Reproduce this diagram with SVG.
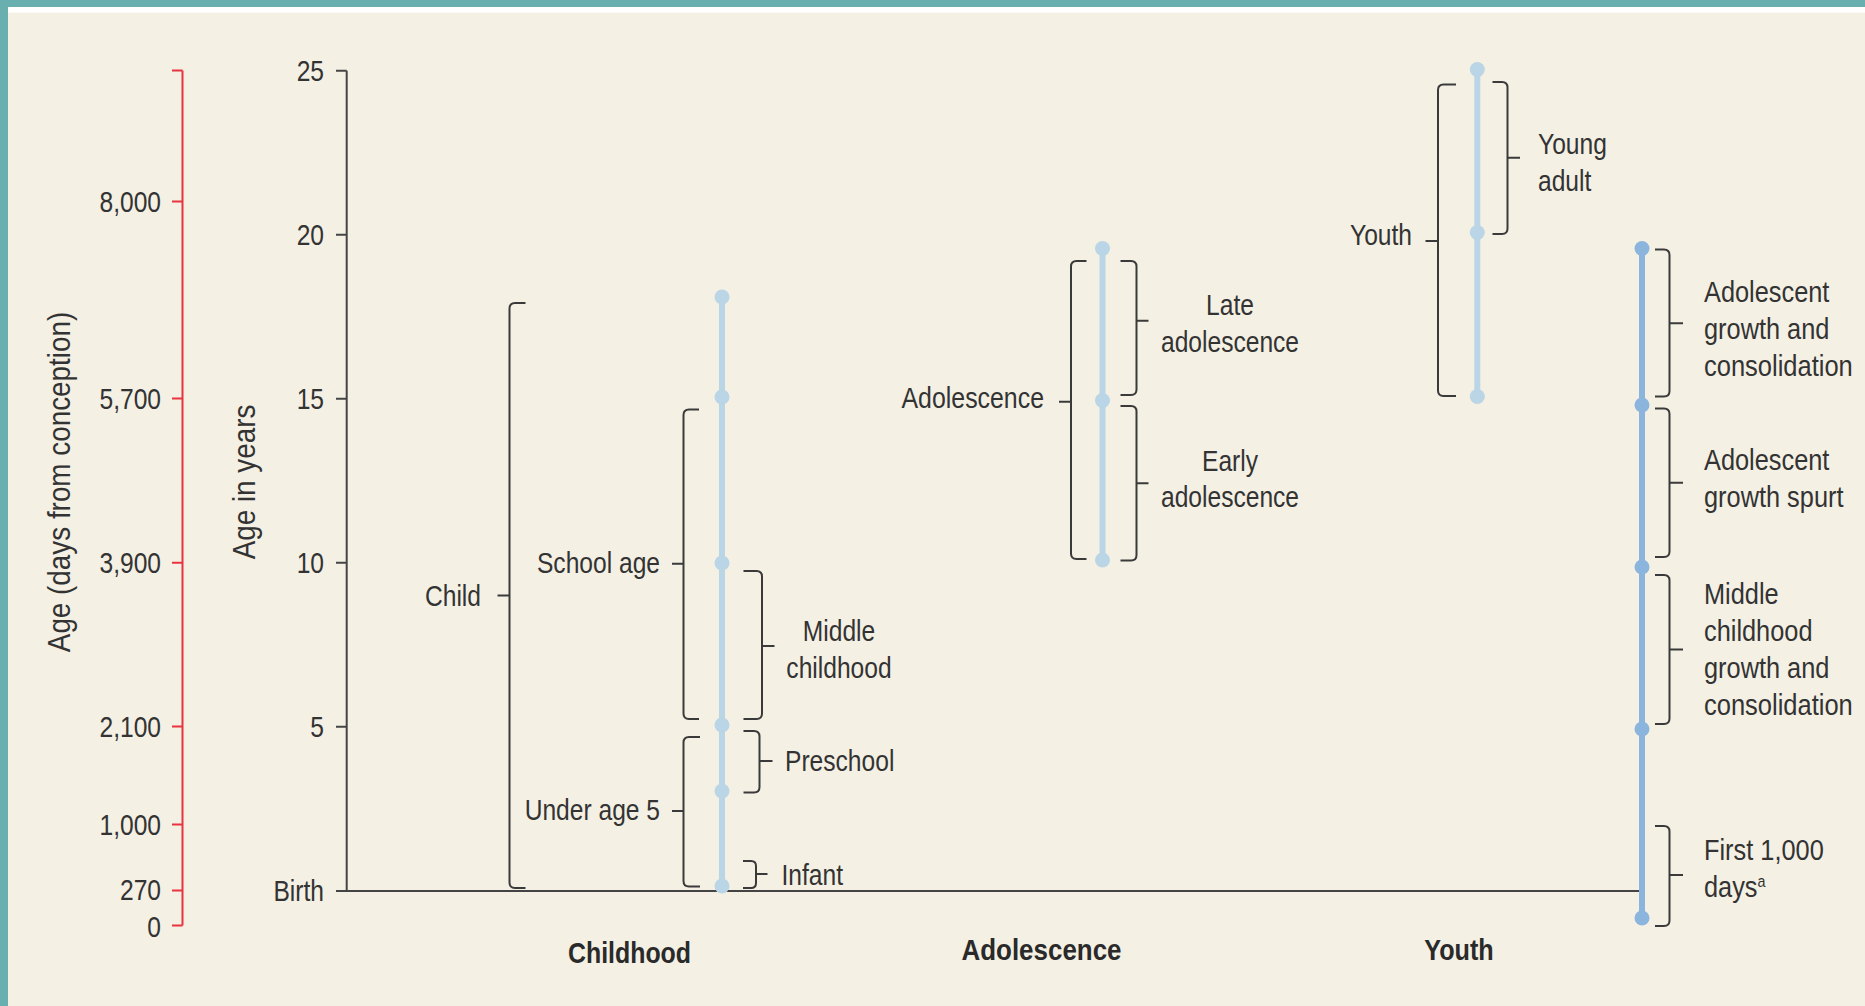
<svg xmlns="http://www.w3.org/2000/svg" width="1865" height="1006" viewBox="0 0 1865 1006">
<style>
text{font-family:"Liberation Sans",Arial,sans-serif;font-size:30px;fill:#333}
.r{text-anchor:end}
.m{text-anchor:middle}
.t{font-weight:bold;fill:#2a2a2a}
.v{font-size:32px;text-anchor:middle}
.ax{stroke:#444;stroke-width:2;fill:none}
.red{stroke:#e8343e;stroke-width:2;fill:none}
.br{stroke:#3a3a3a;stroke-width:2;fill:none}
.lb{stroke:#bad5e5;stroke-width:6;fill:none}
.db{stroke:#8cb5de;stroke-width:6;fill:none}
.lbd{fill:#bad5e5}
.dbd{fill:#8cb5de}
</style>
<rect x="0" y="0" width="1865" height="1006" fill="#f4f0e4"/>
<rect x="0" y="7" width="1865" height="5.5" fill="#ffffff"/>
<rect x="0" y="0" width="1865" height="7" fill="#6aafb0"/>
<rect x="0" y="0" width="8" height="1006" fill="#6aafb0"/>

<g id="axis-days">
<path class="red" d="M182.5 70.5V925.5M172 70.5H182.5M172 201.5H182.5M172 398.5H182.5M172 562.7H182.5M172 726.5H182.5M172 824.5H182.5M172 890.5H182.5M172 925.5H182.5"/>
<text class="r" transform="translate(161 212) scale(.82 1)">8,000</text>
<text class="r" transform="translate(161 409) scale(.82 1)">5,700</text>
<text class="r" transform="translate(161 573) scale(.82 1)">3,900</text>
<text class="r" transform="translate(161 737) scale(.82 1)">2,100</text>
<text class="r" transform="translate(161 835) scale(.82 1)">1,000</text>
<text class="r" transform="translate(161 900) scale(.82 1)">270</text>
<text class="r" transform="translate(161 937) scale(.82 1)">0</text>
<text class="v" transform="translate(70 482) rotate(-90) scale(.87 1)">Age (days from conception)</text>
</g>

<g id="axis-years">
<path class="ax" d="M346.7 70.7V891M336 70.7H346.7M336 234.7H346.7M336 398.7H346.7M336 562.7H346.7M336 726.7H346.7M336 891H1640"/>
<text class="r" transform="translate(324 81) scale(.82 1)">25</text>
<text class="r" transform="translate(324 245) scale(.82 1)">20</text>
<text class="r" transform="translate(324 409) scale(.82 1)">15</text>
<text class="r" transform="translate(324 573) scale(.82 1)">10</text>
<text class="r" transform="translate(324 737) scale(.82 1)">5</text>
<text class="r" transform="translate(324 901) scale(.82 1)">Birth</text>
<text class="v" transform="translate(255 482) rotate(-90) scale(.87 1)">Age in years</text>
</g>

<g id="col-childhood">
<path class="lb" d="M722 297V886"/>
<circle class="lbd" cx="722" cy="297" r="7.5"/>
<circle class="lbd" cx="722" cy="397" r="7.5"/>
<circle class="lbd" cx="722" cy="563" r="7.5"/>
<circle class="lbd" cx="722" cy="725" r="7.5"/>
<circle class="lbd" cx="722" cy="791" r="7.5"/>
<circle class="lbd" cx="722" cy="886" r="7.5"/>
<g id="child">
<path class="br" d="M525.5 303H515Q509.5 303 509.5 308.5V882.5Q509.5 888 515 888H525.5M497.5 595.5H509.5"/>
<text class="r" transform="translate(481 606) scale(.82 1)">Child</text>
</g>
<g id="school-age">
<path class="br" d="M699 409.5H689Q683.5 409.5 683.5 415V713.5Q683.5 719 689 719H699M672 563.7H683.5"/>
<text class="r" transform="translate(660 573) scale(.82 1)">School age</text>
</g>
<g id="middle-childhood">
<path class="br" d="M743.5 571H756.5Q762 571 762 576.5V713.5Q762 719 756.5 719H743.5M762 646H774.5"/>
<text class="m" transform="translate(839 641) scale(.82 1)">Middle</text>
<text class="m" transform="translate(839 678) scale(.82 1)">childhood</text>
</g>
<g id="under-age-5">
<path class="br" d="M700 737H689Q683.5 737 683.5 742.5V881Q683.5 886.5 689 886.5H700M672 811H683.5"/>
<text class="r" transform="translate(660 820) scale(.82 1)">Under age 5</text>
</g>
<g id="preschool">
<path class="br" d="M743.5 731H754Q759.5 731 759.5 736.5V787Q759.5 792.5 754 792.5H743.5M759.5 761H772.5"/>
<text transform="translate(785 771) scale(.82 1)">Preschool</text>
</g>
<g id="infant">
<path class="br" d="M743 861H751Q756 861 756 866V883Q756 888 751 888H743M756 874H767.5"/>
<text transform="translate(781.5 885) scale(.82 1)">Infant</text>
</g>
<text class="m t" transform="translate(629.5 963) scale(.83 1)">Childhood</text>
</g>

<g id="col-adolescence">
<path class="lb" d="M1102.5 248.5V560"/>
<circle class="lbd" cx="1102.5" cy="248.5" r="7.5"/>
<circle class="lbd" cx="1102.5" cy="400.5" r="7.5"/>
<circle class="lbd" cx="1102.5" cy="560" r="7.5"/>
<g id="adolescence">
<path class="br" d="M1086.5 261H1076.5Q1071 261 1071 266.5V553.5Q1071 559 1076.5 559H1086.5M1059 401.7H1071"/>
<text class="r" transform="translate(1044 408) scale(.83 1)">Adolescence</text>
</g>
<g id="late-adolescence">
<path class="br" d="M1120.5 261H1131Q1136.5 261 1136.5 266.5V389.5Q1136.5 395 1131 395H1120.5M1136.5 320.7H1148.5"/>
<text class="m" transform="translate(1230 315) scale(.82 1)">Late</text>
<text class="m" transform="translate(1230 352) scale(.82 1)">adolescence</text>
</g>
<g id="early-adolescence">
<path class="br" d="M1120.5 406H1131Q1136.5 406 1136.5 411.5V555Q1136.5 560.5 1131 560.5H1120.5M1136.5 483.3H1148.5"/>
<text class="m" transform="translate(1230 471) scale(.82 1)">Early</text>
<text class="m" transform="translate(1230 507) scale(.82 1)">adolescence</text>
</g>
<text class="m t" transform="translate(1041.5 960) scale(.865 1)">Adolescence</text>
</g>

<g id="col-youth">
<path class="lb" d="M1477.3 69.5V396.5"/>
<circle class="lbd" cx="1477.3" cy="69.5" r="7.5"/>
<circle class="lbd" cx="1477.3" cy="232.5" r="7.5"/>
<circle class="lbd" cx="1477.3" cy="396.5" r="7.5"/>
<g id="youth">
<path class="br" d="M1456 84.5H1443.5Q1438 84.5 1438 90V390.5Q1438 396 1443.5 396H1456M1425.5 241H1438"/>
<text class="r" transform="translate(1412 245) scale(.82 1)">Youth</text>
</g>
<g id="young-adult">
<path class="br" d="M1492.5 82H1502Q1507.5 82 1507.5 87.5V228.5Q1507.5 234 1502 234H1492.5M1507.5 157.7H1520"/>
<text transform="translate(1538 154) scale(.82 1)">Young</text>
<text transform="translate(1538 191) scale(.82 1)">adult</text>
</g>
<text class="m t" transform="translate(1459 960) scale(.84 1)">Youth</text>
</g>

<g id="col-growth">
<path class="db" d="M1642 248.5V918"/>
<circle class="dbd" cx="1642" cy="248.5" r="7.5"/>
<circle class="dbd" cx="1642" cy="405" r="7.5"/>
<circle class="dbd" cx="1642" cy="567" r="7.5"/>
<circle class="dbd" cx="1642" cy="729" r="7.5"/>
<circle class="dbd" cx="1642" cy="918" r="7.5"/>
<g id="adolescent-growth-consolidation">
<path class="br" d="M1655 249.5H1664Q1669.5 249.5 1669.5 255V391Q1669.5 396.5 1664 396.5H1655M1669.5 323.3H1683"/>
<text transform="translate(1704 302) scale(.845 1)">Adolescent</text>
<text transform="translate(1704 339) scale(.845 1)">growth and</text>
<text transform="translate(1704 376) scale(.85 1)">consolidation</text>
</g>
<g id="adolescent-growth-spurt">
<path class="br" d="M1655 408.5H1664Q1669.5 408.5 1669.5 414V551.5Q1669.5 557 1664 557H1655M1669.5 482.7H1683"/>
<text transform="translate(1704 470) scale(.845 1)">Adolescent</text>
<text transform="translate(1704 507) scale(.845 1)">growth spurt</text>
</g>
<g id="middle-childhood-growth">
<path class="br" d="M1655 575H1664Q1669.5 575 1669.5 580.5V718.5Q1669.5 724 1664 724H1655M1669.5 649.4H1683"/>
<text transform="translate(1704 604) scale(.845 1)">Middle</text>
<text transform="translate(1704 641) scale(.845 1)">childhood</text>
<text transform="translate(1704 678) scale(.845 1)">growth and</text>
<text transform="translate(1704 715) scale(.85 1)">consolidation</text>
</g>
<g id="first-1000-days">
<path class="br" d="M1655 826H1664Q1669.5 826 1669.5 831.5V920.5Q1669.5 926 1664 926H1655M1669.5 875H1683"/>
<text transform="translate(1704 860) scale(.845 1)">First 1,000</text>
<text transform="translate(1704 897) scale(.845 1)">days<tspan dy="-10" style="font-size:17px">a</tspan></text>
</g>
</g>
</svg>
